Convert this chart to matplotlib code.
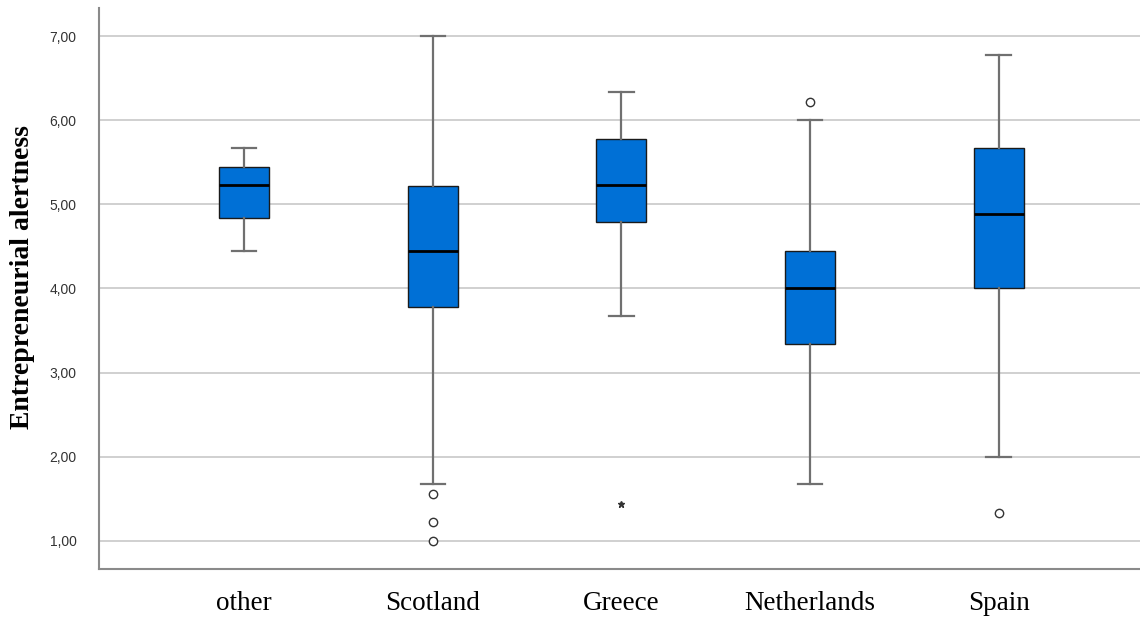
"""Boxplot: entrepreneurial alertness by country (SPSS-style)."""
import matplotlib
matplotlib.use("Agg")
import matplotlib.pyplot as plt

countries = ["other", "Scotland", "Greece", "Netherlands", "Spain"]
whislo = [4.45, 1.67, 3.67, 1.67, 2.00]
q1 = [4.84, 3.78, 4.79, 3.34, 4.00]
med = [5.23, 4.45, 5.23, 4.00, 4.89]
q3 = [5.44, 5.22, 5.78, 4.45, 5.67]
whishi = [5.67, 7.00, 6.33, 6.00, 6.78]
outliers = [[], [1.56, 1.22, 1.00], [], [6.22], [1.33]]
extremes = [[], [], [1.44], [], []]

BLUE = "#0070d6"
GRID = "#c8c8c8"
WHISK = "#707070"

fig = plt.figure(figsize=(11.4, 6.17), dpi=100)
ax = fig.add_axes([0.0868, 0.078, 0.9132, 0.909])

stats = [dict(label=c, whislo=a, q1=b, med=m, q3=d, whishi=e, fliers=f)
         for c, a, b, m, d, e, f in zip(countries, whislo, q1, med, q3, whishi, outliers)]
pos = list(range(len(countries)))

ax.bxp(stats, positions=pos, widths=0.265, patch_artist=True,
       boxprops=dict(facecolor=BLUE, edgecolor="#1a1a1a", lw=1.0),
       medianprops=dict(color="black", lw=2.0),
       whiskerprops=dict(color=WHISK, lw=1.6),
       capprops=dict(color=WHISK, lw=1.6),
       capwidths=0.13,
       flierprops=dict(marker="o", markersize=6, markerfacecolor="white",
                       markeredgecolor="#333333", markeredgewidth=1.0),
       zorder=3)

for p, ext in zip(pos, extremes):
    if ext:
        ax.plot([p] * len(ext), ext, ls="none", marker="*", markersize=5,
                color="#333333", zorder=4)

ax.set_xlim(-0.77, 4.75)
ax.set_ylim(0.667, 7.333)
ax.set_yticks([1, 2, 3, 4, 5, 6, 7])
ax.set_yticklabels([f"{v},00" for v in range(1, 8)], fontsize=10,
                   family="Liberation Sans", color="#333333")
ax.set_xticks(pos)
ax.set_xticklabels(countries, fontsize=19.5, family="Liberation Serif")
ax.tick_params(length=0)
ax.tick_params(axis="x", pad=16)
ax.tick_params(axis="y", pad=16)
ax.yaxis.grid(True, color=GRID, lw=1.2, zorder=0)
ax.set_axisbelow(True)

for s in ["top", "right"]:
    ax.spines[s].set_visible(False)
for s in ["left", "bottom"]:
    ax.spines[s].set_color("#8a8a8a")
    ax.spines[s].set_linewidth(1.5)

ax.set_ylabel("Entrepreneurial alertness", fontsize=20, family="Liberation Serif",
              fontweight="bold")
ax.yaxis.set_label_coords(-0.061, 0.52)

fig.savefig("out.png", dpi=100)
